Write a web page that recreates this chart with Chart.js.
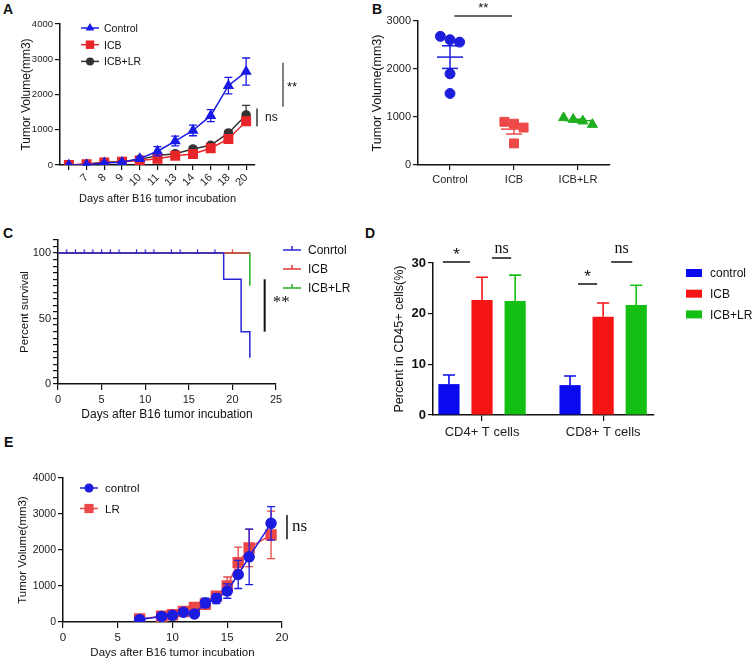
<!DOCTYPE html>
<html>
<head>
<meta charset="utf-8">
<script src="https://cdn.jsdelivr.net/npm/chart.js@4.4.1/dist/chart.umd.min.js"></script>
<style>
body { margin: 0; background: #fff; width: 755px; height: 664px; position: relative; overflow: hidden; font-family: 'Liberation Sans', Arial, sans-serif; }
canvas { position: absolute; }
.lbl { position: absolute; font-weight: bold; font-size: 14px; color: #111; }
</style>
</head>
<body>
<div class="lbl" style="left:3px;top:1px">A</div>
<div class="lbl" style="left:372px;top:1px">B</div>
<div class="lbl" style="left:3px;top:225px">C</div>
<div class="lbl" style="left:365px;top:225px">D</div>
<div class="lbl" style="left:4px;top:434px">E</div>

<canvas id="chartA" width="320" height="215" style="left:0px;top:0px"></canvas>
<canvas id="chartB" width="330" height="200" style="left:360px;top:0px"></canvas>
<canvas id="chartC" width="380" height="215" style="left:0px;top:220px"></canvas>
<canvas id="chartD" width="375" height="225" style="left:380px;top:220px"></canvas>
<canvas id="chartE" width="330" height="214" style="left:0px;top:450px"></canvas>

<script>
// ---- Panel A: tumour volume, ICB groups ----
var daysA = ['', '7', '8', '9', '10', '11', '13', '14', '16', '18', '20'];
var ctrlA = [0, 10, 55, 75, 180, 390, 680, 980, 1400, 2250, 2650];
var ctrlErrA = [0, 10, 20, 25, 40, 130, 140, 150, 170, 235, 385];
var icbA = [0, 25, 70, 95, 125, 180, 265, 310, 475, 740, 1240];
var icbErrA = [0, 10, 20, 20, 30, 40, 50, 60, 70, 90, 110];
var lrA = [0, 20, 80, 95, 160, 270, 320, 455, 560, 910, 1420];
var lrErrA = [0, 10, 20, 25, 30, 40, 40, 50, 70, 60, 270];

// ---- Panel B: end-point tumour volume per mouse ----
var groupsB = ['Control', 'ICB', 'ICB+LR'];
var ctrlB = [2680, 2610, 2560, 1900, 1490];
var icbB = [900, 860, 780, 450];
var lrB = [985, 950, 915, 845];

// ---- Panel C: survival ----
var survDaysCtrl = [0, 19, 21, 22];
var survCtrl = [100, 80, 40, 20];
var survDaysIcb = [0, 22];
var survIcb = [100, 100];
var survDaysLr = [0, 22];
var survLr = [100, 75];
var censorCtrl = [1, 2, 3, 4, 5, 6, 7, 9, 10, 11, 13, 14, 16, 18];
var censorIcb = [20];

// ---- Panel D: T cells ----
var cellTypes = ['CD4+ T cells', 'CD8+ T cells'];
var ctrlD = [6.1, 5.9];
var ctrlSdD = [1.8, 1.8];
var icbD = [22.7, 19.4];
var icbSdD = [4.5, 2.7];
var lrD = [22.5, 21.7];
var lrSdD = [5.1, 3.9];

// ---- Panel E: tumour volume, LR alone ----
var daysE = [7, 9, 10, 11, 12, 13, 14, 15, 16, 17, 19];
var ctrlE = [70, 155, 185, 270, 225, 530, 650, 860, 1320, 1810, 2740];
var ctrlErrE = [20, 30, 40, 90, 40, 130, 140, 200, 390, 770, 465];
var lrE = [85, 160, 200, 290, 405, 500, 720, 1000, 1650, 2060, 2420];
var lrErrE = [20, 30, 30, 70, 40, 150, 120, 250, 430, 520, 660];

var SANS = "'Liberation Sans', Arial, sans-serif";
var SERIF = "'Liberation Serif', 'Times New Roman', serif";
Chart.defaults.font.family = SANS;
Chart.defaults.color = '#222';
Chart.defaults.animation = false;
Chart.defaults.events = [];
Chart.defaults.plugins.legend.display = false;
Chart.defaults.plugins.tooltip.enabled = false;

// error bars drawn just before each dataset, from dataset.errors
var errorBars = {
    id: 'errorBars',
    beforeDatasetDraw: function (chart, args) {
        var ds = chart.data.datasets[args.index];
        if (!ds.errors) return;
        var meta = args.meta;
        var yScale = chart.scales[meta.yAxisID];
        var ctx = chart.ctx;
        ctx.save();
        ctx.strokeStyle = ds.borderColor;
        ctx.lineWidth = ds.errorWidth || 1.3;
        meta.data.forEach(function (el, i) {
            var d = ds.data[i];
            var v = typeof d === 'object' ? d.y : d;
            var e = ds.errors[i];
            if (!e) return;
            var x = el.x;
            var cap = ds.capHalf || 4;
            var top = yScale.getPixelForValue(v + e);
            var bot = yScale.getPixelForValue(ds.errorUp ? v : v - e);
            ctx.beginPath();
            ctx.moveTo(x, top); ctx.lineTo(x, bot);
            ctx.moveTo(x - cap, top); ctx.lineTo(x + cap, top);
            if (!ds.errorUp) { ctx.moveTo(x - cap, bot); ctx.lineTo(x + cap, bot); }
            ctx.stroke();
        });
        ctx.restore();
    }
};

function marker(ctx, style, x, y, r) {
    ctx.beginPath();
    if (style === 'circle') {
        ctx.arc(x, y, r, 0, Math.PI * 2);
    } else if (style === 'rect') {
        var s = r * Math.SQRT1_2;
        ctx.rect(x - s, y - s, 2 * s, 2 * s);
    } else if (style === 'triangle') {
        ctx.moveTo(x, y - r);
        ctx.lineTo(x + r * 0.866, y + r * 0.5);
        ctx.lineTo(x - r * 0.866, y + r * 0.5);
        ctx.closePath();
    }
    ctx.fill();
}

// simple legend: line (+marker), censor tick or colour box
function drawLegend(ctx, items, x, y, rowH, fontSize) {
    ctx.save();
    ctx.font = fontSize + 'px ' + SANS;
    ctx.textBaseline = 'middle';
    items.forEach(function (it, i) {
        var cy = y + i * rowH;
        ctx.strokeStyle = it.color;
        ctx.fillStyle = it.color;
        ctx.lineWidth = 1.5;
        if (it.box) {
            ctx.fillRect(x, cy - 4, 16, 8);
        } else {
            ctx.beginPath();
            ctx.moveTo(x, cy); ctx.lineTo(x + 18, cy);
            if (it.tick) { ctx.moveTo(x + 9, cy); ctx.lineTo(x + 9, cy - 4); }
            ctx.stroke();
            if (it.style) marker(ctx, it.style, x + 9, cy, it.r);
        }
        ctx.fillStyle = '#111';
        ctx.fillText(it.label, x + it.dx, cy + 1);
    });
    ctx.restore();
}

function vline(ctx, x, y1, y2, color, w) {
    ctx.save();
    ctx.strokeStyle = color;
    ctx.lineWidth = w;
    ctx.beginPath(); ctx.moveTo(x, y1); ctx.lineTo(x, y2); ctx.stroke();
    ctx.restore();
}
function hline(ctx, x1, x2, y, color, w) {
    ctx.save();
    ctx.strokeStyle = color;
    ctx.lineWidth = w;
    ctx.beginPath(); ctx.moveTo(x1, y); ctx.lineTo(x2, y); ctx.stroke();
    ctx.restore();
}
function text(ctx, s, x, y, font, align) {
    ctx.save();
    ctx.font = font;
    ctx.fillStyle = '#111';
    ctx.textAlign = align || 'left';
    ctx.textBaseline = 'middle';
    ctx.fillText(s, x, y);
    ctx.restore();
}

function axisGrid(len) {
    return { drawOnChartArea: false, tickLength: len, color: '#111', lineWidth: 1.2 };
}
var axisBorder = { color: '#111', width: 1.5 };
function plain(v) { return String(v); }

// ---------------- A ----------------
var cA = { blue: '#1a1ae6', red: '#e8262a', black: '#333333' };
new Chart(document.getElementById('chartA'), {
    type: 'line',
    data: {
        labels: daysA,
        datasets: [
            { data: ctrlA, errors: ctrlErrA, borderColor: cA.blue, backgroundColor: cA.blue, borderWidth: 1.5,
              pointStyle: 'triangle', pointRadius: 5, tension: 0, order: 0 },
            { data: icbA, errors: icbErrA, borderColor: cA.red, backgroundColor: cA.red, borderWidth: 1.5,
              pointStyle: 'rect', pointRadius: 6, tension: 0, order: 1 },
            { data: lrA, errors: lrErrA, borderColor: cA.black, backgroundColor: cA.black, borderWidth: 1.5,
              pointStyle: 'circle', pointRadius: 4, tension: 0, order: 2 }
        ]
    },
    options: {
        responsive: false,
        devicePixelRatio: 1,
        layout: { padding: { left: 19, top: 24, right: 65, bottom: 9 } },
        scales: {
            x: {
                offset: true,
                grid: axisGrid(5),
                border: axisBorder,
                ticks: { minRotation: 45, maxRotation: 45, autoSkip: false, font: { size: 11 }, padding: 1 },
                title: { display: true, text: 'Days after B16 tumor incubation', font: { size: 11 }, padding: 0, color: '#111' },
                afterFit: function (s) { s.height = 41; }
            },
            y: {
                min: 0, max: 4000,
                grid: axisGrid(5),
                border: axisBorder,
                ticks: { stepSize: 1000, font: { size: 9.5 }, padding: 2, callback: plain },
                title: { display: true, text: 'Tumor Volume(mm3)', font: { size: 12 }, padding: 0, color: '#111' },
                afterFit: function (s) { s.width = 41; }
            }
        }
    },
    plugins: [errorBars, {
        id: 'notesA',
        afterDraw: function (chart) {
            var ctx = chart.ctx, y = chart.scales.y, a = chart.chartArea;
            drawLegend(ctx, [
                { label: 'Control', color: cA.blue, style: 'triangle', r: 5, dx: 23 },
                { label: 'ICB', color: cA.red, style: 'rect', r: 6, dx: 23 },
                { label: 'ICB+LR', color: cA.black, style: 'circle', r: 4, dx: 23 }
            ], 81, 28, 16.7, 10.5);
            vline(ctx, a.right + 28, y.getPixelForValue(2900), y.getPixelForValue(1650), '#555', 1.5);
            text(ctx, '**', a.right + 32, y.getPixelForValue(2200), '13px ' + SANS);
            vline(ctx, a.right + 2, y.getPixelForValue(1600), y.getPixelForValue(1100), '#111', 1.3);
            text(ctx, 'ns', a.right + 10, y.getPixelForValue(1350), '12px ' + SANS);
        }
    }]
});

// ---------------- B ----------------
// spread points with close values side by side (like a column scatter)
function swarm(vals, step) {
    var offs = vals.map(function () { return 0; });
    var order = vals.map(function (v, i) { return i; }).sort(function (a, b) { return vals[b] - vals[a]; });
    var i = 0;
    while (i < order.length) {
        var j = i;
        while (j + 1 < order.length && vals[order[i]] - vals[order[j + 1]] < 150) j++;
        var n = j - i + 1;
        for (var k = 0; k < n; k++) offs[order[i + k]] = (k - (n - 1) / 2) * step;
        i = j + 1;
    }
    return offs;
}
function columnPoints(vals, gi) {
    var offs = swarm(vals, 0.15);
    return vals.map(function (v, i) { return { x: gi + offs[i], y: v }; });
}
function meanSem(vals) {
    var n = vals.length;
    var m = vals.reduce(function (s, v) { return s + v; }, 0) / n;
    var sd = Math.sqrt(vals.reduce(function (s, v) { return s + (v - m) * (v - m); }, 0) / (n - 1));
    return { mean: m, sem: sd / Math.sqrt(n) };
}
var cB = ['#1d1ddc', '#ee4848', '#1fae1f'];
var valsB = [ctrlB, icbB, lrB];
new Chart(document.getElementById('chartB'), {
    type: 'scatter',
    data: {
        datasets: [
            { data: columnPoints(ctrlB, 0), backgroundColor: cB[0], borderColor: cB[0], pointStyle: 'circle', pointRadius: 5 },
            { data: columnPoints(icbB, 1), backgroundColor: cB[1], borderColor: cB[1], pointStyle: 'rect', pointRadius: 6.3 },
            { data: columnPoints(lrB, 2), backgroundColor: cB[2], borderColor: cB[2], pointStyle: 'triangle', pointRadius: 5.8 }
        ]
    },
    options: {
        responsive: false,
        devicePixelRatio: 1,
        layout: { padding: { left: 10, top: 21, right: 80, bottom: 0 } },
        scales: {
            x: {
                type: 'linear', min: -0.5, max: 2.5,
                grid: axisGrid(5),
                border: axisBorder,
                afterBuildTicks: function (s) { s.ticks = groupsB.map(function (g, i) { return { value: i }; }); },
                ticks: { font: { size: 11 }, padding: 3, callback: function (v) { return groupsB[v]; } },
                afterFit: function (s) { s.height = 35; }
            },
            y: {
                min: 0, max: 3000,
                grid: axisGrid(5),
                border: axisBorder,
                ticks: { stepSize: 1000, font: { size: 11 }, padding: 2, callback: plain },
                title: { display: true, text: 'Tumor Volume(mm3)', font: { size: 12.5 }, padding: 0, color: '#111' },
                afterFit: function (s) { s.width = 48; }
            }
        }
    },
    plugins: [{
        id: 'notesB',
        afterDatasetsDraw: function (chart) {
            var ctx = chart.ctx, x = chart.scales.x, y = chart.scales.y;
            valsB.forEach(function (vals, gi) {
                var ms = meanSem(vals);
                var cx = x.getPixelForValue(gi);
                var ym = y.getPixelForValue(ms.mean);
                var yt = y.getPixelForValue(ms.mean + ms.sem);
                var yb = y.getPixelForValue(ms.mean - ms.sem);
                hline(ctx, cx - 13, cx + 13, ym, cB[gi], 1.5);
                vline(ctx, cx, yt, yb, cB[gi], 1.5);
                hline(ctx, cx - 8, cx + 8, yt, cB[gi], 1.5);
                hline(ctx, cx - 8, cx + 8, yb, cB[gi], 1.5);
            });
            var a = chart.chartArea;
            var x1 = x.getPixelForValue(0.07), x2 = x.getPixelForValue(0.97);
            hline(ctx, x1, x2, a.top - 5, '#333', 1.3);
            text(ctx, '**', (x1 + x2) / 2, a.top - 13, '13px ' + SANS, 'center');
        }
    }]
});

// ---------------- C ----------------
function censorMark(color) {
    // short upward tick; the canvas is centred on the point
    var c = document.createElement('canvas');
    c.width = 3; c.height = 9;
    var g = c.getContext('2d');
    g.strokeStyle = color; g.lineWidth = 1.2;
    g.beginPath(); g.moveTo(1.5, 0.5); g.lineTo(1.5, 4.5); g.stroke();
    return c;
}
function xy(xs, ys) { return xs.map(function (x, i) { return { x: x, y: ys[i] }; }); }
var cC = { blue: '#2626d4', red: '#e23a3a', green: '#26b026' };
new Chart(document.getElementById('chartC'), {
    type: 'line',
    data: {
        datasets: [
            { data: xy(survDaysCtrl, survCtrl), borderColor: cC.blue, borderWidth: 1.5, stepped: 'before', pointRadius: 0, order: 0 },
            { data: xy(survDaysIcb, survIcb), borderColor: cC.red, borderWidth: 1.5, stepped: 'before', pointRadius: 0, order: 1 },
            { data: xy(survDaysLr, survLr), borderColor: cC.green, borderWidth: 1.5, stepped: 'before', pointRadius: 0, order: 2 },
            { type: 'scatter', data: censorCtrl.map(function (t) { return { x: t, y: 100 }; }), pointStyle: censorMark(cC.blue), order: 0 },
            { type: 'scatter', data: censorIcb.map(function (t) { return { x: t, y: 100 }; }), pointStyle: censorMark(cC.red), order: 0 }
        ]
    },
    options: {
        responsive: false,
        devicePixelRatio: 1,
        layout: { padding: { left: 18, top: 20, right: 104, bottom: 13 } },
        scales: {
            x: {
                type: 'linear', min: 0, max: 25,
                grid: axisGrid(6),
                border: axisBorder,
                ticks: { stepSize: 5, font: { size: 11 }, padding: 3 },
                title: { display: true, text: 'Days after B16 tumor incubation', font: { size: 12 }, padding: 0, color: '#111' },
                afterFit: function (s) { s.height = 38; }
            },
            y: {
                min: 0, max: 110,
                grid: axisGrid(5),
                border: axisBorder,
                ticks: { stepSize: 5, autoSkip: false, font: { size: 11 }, padding: 2,
                         callback: function (v) { return v % 50 === 0 ? String(v) : ''; } },
                title: { display: true, text: 'Percent survival', font: { size: 11.5 }, padding: 0, color: '#111' },
                afterFit: function (s) { s.width = 40; }
            }
        }
    },
    plugins: [{
        id: 'notesC',
        afterDraw: function (chart) {
            var ctx = chart.ctx, x = chart.scales.x, y = chart.scales.y;
            drawLegend(ctx, [
                { label: 'Conrtol', color: cC.blue, tick: true, dx: 25 },
                { label: 'ICB', color: cC.red, tick: true, dx: 25 },
                { label: 'ICB+LR', color: cC.green, tick: true, dx: 25 }
            ], 283, 30, 19, 12);
            vline(ctx, x.getPixelForValue(23.7), y.getPixelForValue(80), y.getPixelForValue(40), '#111', 2);
            text(ctx, '**', x.getPixelForValue(23.7) + 8, y.getPixelForValue(62), '17px ' + SERIF);
        }
    }]
});

// ---------------- D ----------------
function pts(vals) { return vals.map(function (v, i) { return { x: i, y: v }; }); }
var cD = { blue: '#0a0aee', red: '#f51515', green: '#13bf13' };
new Chart(document.getElementById('chartD'), {
    type: 'bar',
    data: {
        datasets: [
            { data: pts(ctrlD), errors: ctrlSdD, errorUp: true, capHalf: 6, errorWidth: 1.6, backgroundColor: cD.blue, borderColor: cD.blue },
            { data: pts(icbD), errors: icbSdD, errorUp: true, capHalf: 6, errorWidth: 1.6, backgroundColor: cD.red, borderColor: cD.red },
            { data: pts(lrD), errors: lrSdD, errorUp: true, capHalf: 6, errorWidth: 1.6, backgroundColor: cD.green, borderColor: cD.green }
        ]
    },
    options: {
        responsive: false,
        devicePixelRatio: 1,
        categoryPercentage: 0.82,
        barPercentage: 0.64,
        layout: { padding: { left: 12, top: 43, right: 101, bottom: 0 } },
        scales: {
            x: {
                type: 'linear', min: -0.405, max: 1.42, offset: false,
                grid: { drawOnChartArea: false, tickLength: 6, color: '#111', lineWidth: 1.2, offset: false },
                border: axisBorder,
                afterBuildTicks: function (s) { s.ticks = cellTypes.map(function (c, i) { return { value: i }; }); },
                ticks: { font: { size: 13 }, padding: 4, callback: function (v) { return cellTypes[v]; } },
                afterFit: function (s) { s.height = 30; }
            },
            y: {
                min: 0, max: 30,
                grid: axisGrid(5),
                border: axisBorder,
                ticks: { stepSize: 10, font: { size: 13, weight: 'bold' }, padding: 2, color: '#111' },
                title: { display: true, text: 'Percent in CD45+ cells(%)', font: { size: 12.5 }, padding: 0, color: '#111' },
                afterFit: function (s) { s.width = 41; }
            }
        }
    },
    plugins: [errorBars, {
        id: 'notesD',
        afterDraw: function (chart) {
            var ctx = chart.ctx;
            var b0 = chart.getDatasetMeta(0).data, b1 = chart.getDatasetMeta(1).data, b2 = chart.getDatasetMeta(2).data;
            // CD4
            hline(ctx, b0[0].x - 6, b1[0].x - 12, 42, '#111', 1.5);
            text(ctx, '*', (b0[0].x + b1[0].x) / 2 - 9, 35, '17px ' + SANS, 'center');
            hline(ctx, b1[0].x + 10, b2[0].x - 4, 38, '#111', 1.5);
            text(ctx, 'ns', (b1[0].x + b2[0].x) / 2 + 3, 29, '16px ' + SERIF, 'center');
            // CD8
            hline(ctx, b0[1].x + 8, b1[1].x - 6, 64, '#111', 1.5);
            text(ctx, '*', (b0[1].x + b1[1].x) / 2 + 1, 57, '17px ' + SANS, 'center');
            hline(ctx, b1[1].x + 8, b2[1].x - 4, 42, '#111', 1.5);
            text(ctx, 'ns', (b1[1].x + b2[1].x) / 2 + 2, 29, '16px ' + SERIF, 'center');
            drawLegend(ctx, [
                { label: 'control', color: cD.blue, box: true, dx: 24 },
                { label: 'ICB', color: cD.red, box: true, dx: 24 },
                { label: 'ICB+LR', color: cD.green, box: true, dx: 24 }
            ], 306, 53, 20.7, 12);
        }
    }]
});

// ---------------- E ----------------
var cE = { blue: '#1c1ce0', red: '#ec4646' };
new Chart(document.getElementById('chartE'), {
    type: 'line',
    data: {
        datasets: [
            { data: xy(daysE, ctrlE), errors: ctrlErrE, borderColor: cE.blue, backgroundColor: cE.blue, borderWidth: 1.5,
              pointStyle: 'circle', pointRadius: 5, tension: 0, order: 0 },
            { data: xy(daysE, lrE), errors: lrErrE, borderColor: cE.red, backgroundColor: cE.red, borderWidth: 1.5,
              pointStyle: 'rect', pointRadius: 7, tension: 0, order: 1 }
        ]
    },
    options: {
        responsive: false,
        devicePixelRatio: 1,
        layout: { padding: { left: 16, top: 28, right: 48, bottom: 4 } },
        scales: {
            x: {
                type: 'linear', min: 0, max: 20,
                grid: axisGrid(6),
                border: axisBorder,
                ticks: { stepSize: 5, font: { size: 11.5 }, padding: 3 },
                title: { display: true, text: 'Days after B16 tumor incubation', font: { size: 11.5 }, padding: 0, color: '#111' },
                afterFit: function (s) { s.height = 38; }
            },
            y: {
                min: 0, max: 4000,
                grid: axisGrid(5),
                border: axisBorder,
                ticks: { stepSize: 1000, font: { size: 10.5 }, padding: 2, callback: plain },
                title: { display: true, text: 'Tumor Volume(mm3)', font: { size: 11.5 }, padding: 0, color: '#111' },
                afterFit: function (s) { s.width = 47; }
            }
        }
    },
    plugins: [errorBars, {
        id: 'notesE',
        afterDraw: function (chart) {
            var ctx = chart.ctx, y = chart.scales.y, a = chart.chartArea;
            drawLegend(ctx, [
                { label: 'control', color: cE.blue, style: 'circle', r: 4.5, dx: 25 },
                { label: 'LR', color: cE.red, style: 'rect', r: 6.5, dx: 25 }
            ], 80, 38, 20.5, 11.5);
            vline(ctx, a.right + 5, y.getPixelForValue(2970), y.getPixelForValue(2300), '#111', 1.5);
            text(ctx, 'ns', a.right + 10, y.getPixelForValue(2640), '17px ' + SERIF);
        }
    }]
});
</script>
</body>
</html>
